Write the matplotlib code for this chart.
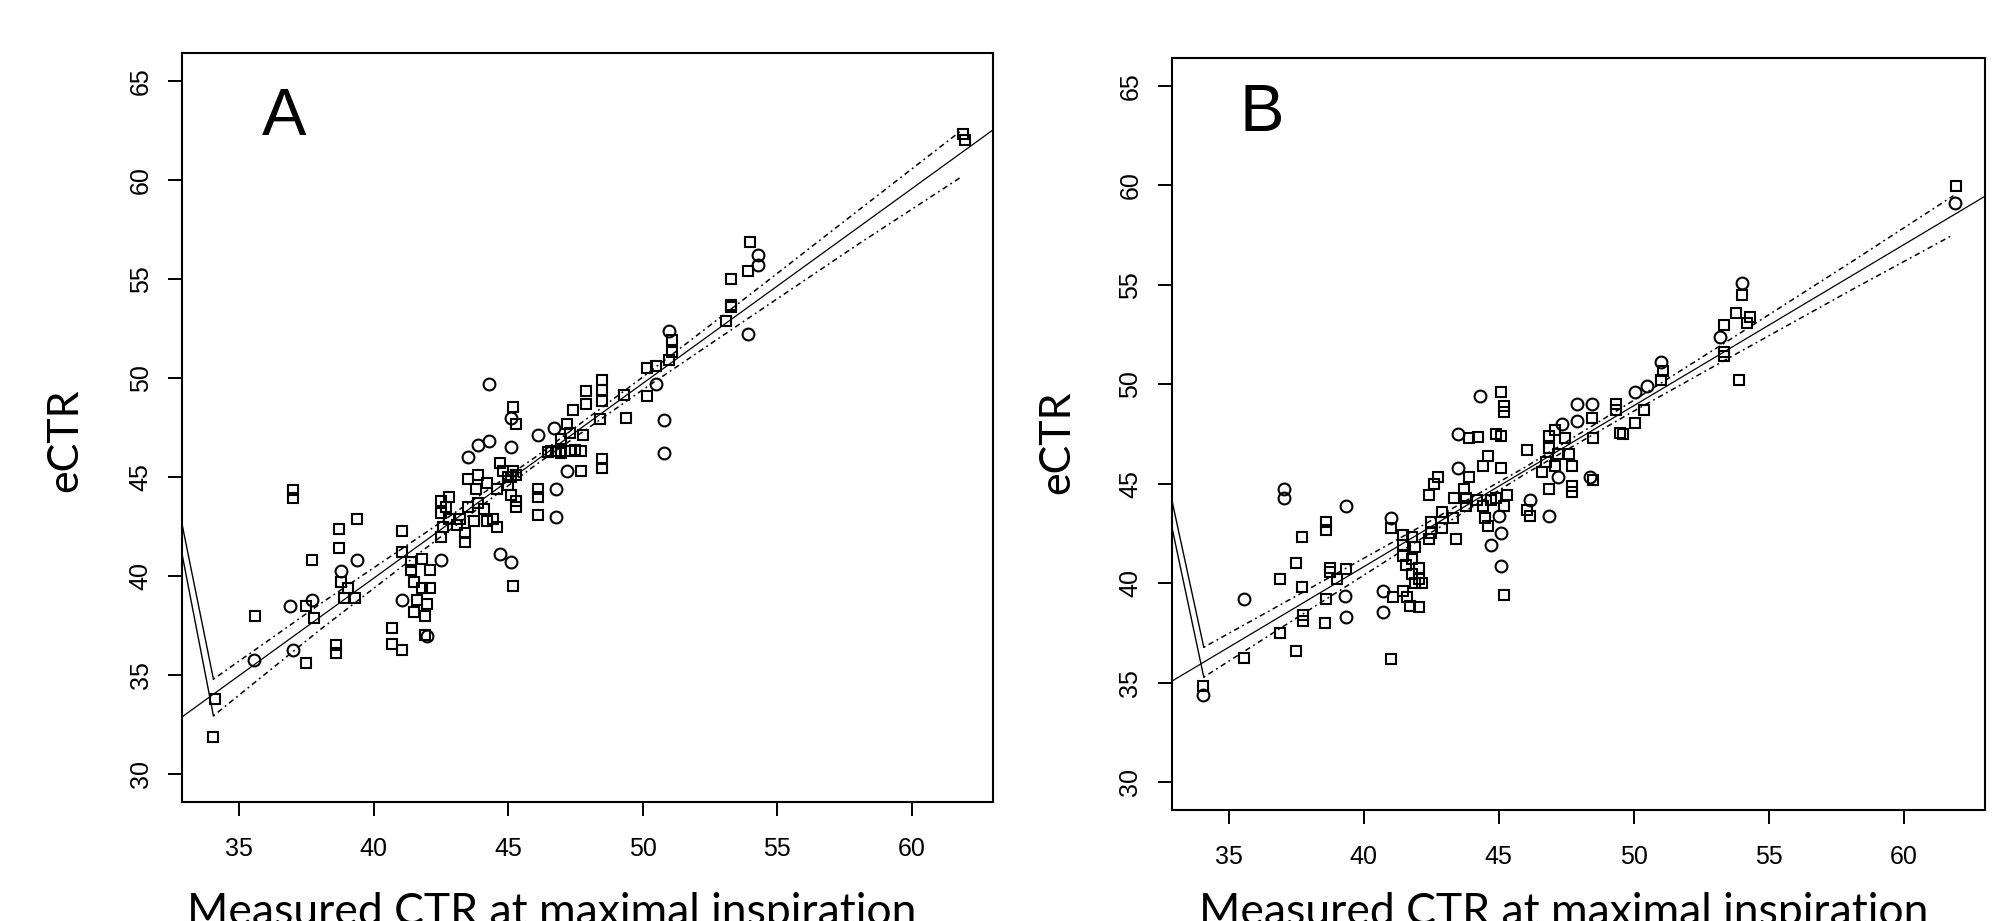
import numpy as np
import matplotlib
matplotlib.use("Agg")
import matplotlib.pyplot as plt

plt.rcParams["font.family"] = ["Liberation Sans", "DejaVu Sans"]

# ---- panel A: measured vs estimated CTR ----
a_sq_x = [61.9, 62.0, 54.0, 53.9, 53.3, 53.3, 53.3, 53.1, 51.1, 51.1, 50.97, 50.5, 50.15, 50.15,
          49.3, 49.4, 48.5, 48.5, 48.5, 47.9, 47.9, 47.4, 48.4, 47.8, 47.2, 47.3, 46.95, 46.6,
          46.95, 47.3, 47.7, 47.7, 48.5, 48.5, 46.1, 46.1, 46.1, 45.2, 45.3, 44.7, 44.8, 45.1,
          45.2, 43.5, 43.9, 44.2, 44.6, 45.1, 45.3, 45.3, 43.8, 43.5, 43.9, 44.1, 44.45, 44.6,
          44.2, 43.75, 43.4, 43.4, 42.8, 42.5, 42.7, 42.5, 42.8, 43.1, 42.6, 42.5, 43.2, 41.05,
          41.05, 41.4, 41.8, 41.4, 42.1, 41.5, 41.8, 42.1, 41.6, 42.0, 41.5, 41.9, 40.7, 41.9,
          40.7, 41.05, 45.2, 39.4, 38.7, 38.7, 37.7, 38.8, 39.05, 38.9, 39.3, 37.5, 37.8, 37.0,
          37.0, 35.6, 37.5, 38.6, 38.6, 34.1, 34.05, 46.5, 46.8, 47.1, 47.5, 45.0, 45.3, 45.0]
a_sq_y = [62.3, 62.0, 56.85, 55.4, 55.0, 53.7, 53.6, 52.9, 51.9, 51.3, 50.9, 50.6, 50.5, 49.1,
          49.15, 48.0, 49.9, 49.4, 48.85, 49.35, 48.7, 48.4, 47.95, 47.1, 47.7, 47.2, 46.9, 46.3,
          46.2, 46.3, 46.3, 45.3, 45.9, 45.45, 44.4, 44.0, 43.1, 48.55, 47.7, 45.7, 45.3, 45.0,
          45.3, 44.9, 45.1, 44.7, 44.4, 44.1, 43.8, 43.5, 44.4, 43.5, 43.7, 43.4, 42.9, 42.5,
          42.8, 42.8, 42.2, 41.7, 44.0, 43.8, 43.5, 43.2, 42.9, 42.6, 42.5, 42.0, 42.9, 42.3,
          41.2, 40.7, 40.85, 40.3, 40.3, 39.7, 39.4, 39.4, 38.8, 38.6, 38.2, 38.0, 37.4, 37.05,
          36.55, 36.25, 39.5, 42.9, 42.4, 41.4, 40.8, 39.7, 39.4, 38.9, 38.9, 38.5, 37.9, 44.35,
          43.95, 38.0, 35.6, 36.5, 36.1, 33.8, 31.9, 46.25, 46.3, 46.3, 46.35, 45.0, 45.1, 44.6]
a_ci_x = [54.3, 54.3, 53.9, 51.0, 50.5, 50.8, 50.8, 46.7, 47.2, 46.8, 46.8, 46.1, 44.3, 45.1,
          44.3, 43.9, 43.5, 45.1, 42.5, 41.05, 42.0, 44.7, 45.1, 39.4, 38.8, 37.7, 36.9, 35.55, 37.0]
a_ci_y = [56.2, 55.7, 52.2, 52.35, 49.7, 47.9, 46.2, 47.5, 45.3, 44.4, 43.0, 47.1, 49.7, 48.0,
          46.8, 46.6, 46.0, 46.5, 40.8, 38.8, 37.0, 41.1, 40.7, 40.8, 40.25, 38.8, 38.5, 35.75, 36.25]
a_fit = (0.57, 0.983)  # intercept, slope
a_band_x = [32.5, 34.05, 38, 42, 46, 50, 54, 58, 61.85]
a_band_up = [45.2, 34.8, 38.58, 42.25, 45.99, 50.04, 54.22, 58.44, 62.49]
a_band_lo = [43.8, 32.95, 37.28, 41.47, 45.59, 49.40, 53.08, 56.74, 60.15]

# ---- panel B ----
b_sq_x = [61.96, 54.0, 53.8, 54.3, 54.2, 53.35, 53.35, 53.35, 53.9, 51.1, 51.0, 50.4, 50.05, 49.35,
          49.35, 49.5, 49.6, 48.45, 48.5, 48.5, 47.7, 47.7, 47.1, 46.85, 47.45, 46.85, 47.2, 47.6,
          46.75, 47.1, 47.7, 46.6, 46.85, 46.05, 46.05, 46.15, 45.1, 45.2, 45.2, 43.9, 44.25, 44.9,
          45.1, 44.6, 44.4, 45.1, 43.9, 43.7, 43.35, 43.8, 44.2, 44.7, 43.8, 44.4, 44.9, 45.3,
          45.2, 44.5, 44.6, 43.4, 43.3, 45.2, 42.75, 42.4, 42.6, 42.9, 42.5, 42.9, 42.5, 42.4,
          41.0, 41.45, 41.8, 41.45, 41.9, 41.45, 41.8, 41.55, 42.05, 41.8, 42.05, 41.9, 42.15, 41.45,
          41.1, 41.6, 41.7, 42.05, 41.0, 38.6, 38.6, 37.7, 37.5, 36.9, 38.75, 38.75, 39.35, 39.0,
          37.7, 38.6, 37.75, 37.75, 38.55, 36.9, 37.5, 35.55, 34.03]
b_sq_y = [59.97, 54.5, 53.6, 53.4, 53.1, 53.0, 51.6, 51.4, 50.2, 50.65, 50.2, 48.7, 48.05, 49.0,
          48.7, 47.55, 47.5, 48.3, 47.3, 45.2, 44.9, 44.6, 47.7, 47.4, 47.3, 46.8, 46.5, 46.5,
          46.1, 45.9, 45.9, 45.6, 44.75, 46.7, 43.7, 43.4, 49.6, 48.9, 48.6, 47.3, 47.35, 47.5,
          47.4, 46.4, 45.9, 45.8, 45.35, 44.75, 44.3, 44.3, 44.2, 44.2, 43.9, 43.9, 44.3, 44.45,
          43.9, 43.3, 42.9, 42.2, 43.3, 39.4, 45.35, 44.45, 45.0, 43.6, 43.1, 42.8, 42.5, 42.2,
          42.8, 42.4, 42.3, 41.9, 41.8, 41.35, 41.2, 40.9, 40.75, 40.45, 40.2, 40.0, 40.0, 39.6,
          39.3, 39.3, 38.85, 38.8, 36.2, 43.1, 42.7, 42.3, 41.0, 40.2, 40.75, 40.55, 40.7, 40.2,
          39.8, 39.2, 38.4, 38.1, 38.0, 37.5, 36.6, 36.25, 34.85]
b_ci_x = [61.9, 54.0, 53.2, 51.0, 50.5, 50.05, 48.45, 47.9, 47.9, 48.4, 47.35, 47.2, 46.85, 46.15,
          44.3, 43.5, 43.5, 45.0, 45.1, 44.7, 45.1, 41.0, 40.7, 40.7, 39.35, 39.3, 39.35, 35.55,
          37.05, 37.05, 34.03]
b_ci_y = [59.1, 55.1, 52.4, 51.1, 49.9, 49.6, 49.0, 49.0, 48.15, 45.35, 48.0, 45.35, 43.4, 44.2,
          49.4, 47.5, 45.8, 43.4, 42.5, 41.9, 40.85, 43.3, 38.55, 39.6, 43.9, 39.35, 38.3, 39.2,
          44.75, 44.3, 34.4]
b_fit = (8.47, 0.809)
b_band_x = [32.5, 34.07, 38, 42, 46, 50, 54, 58, 61.85]
b_band_up = [46.6, 36.78, 39.74, 42.77, 45.85, 49.19, 52.62, 56.09, 59.48]
b_band_lo = [45.3, 35.28, 38.68, 42.13, 45.51, 48.65, 51.68, 54.69, 57.52]

x_ticks = [35, 40, 45, 50, 55, 60]
y_ticks = [30, 35, 40, 45, 50, 55, 60, 65]

fig = plt.figure(figsize=(19.95, 9.21), dpi=100)

panels = [
    ("A", [0.0912, 0.1292, 0.4065, 0.8132], a_sq_x, a_sq_y, a_ci_x, a_ci_y, a_fit,
     a_band_x, a_band_up, a_band_lo, (0.0986, 0.8905)),
    ("B", [0.5873, 0.1205, 0.4077, 0.8165], b_sq_x, b_sq_y, b_ci_x, b_ci_y, b_fit,
     b_band_x, b_band_up, b_band_lo, (0.0836, 0.903)),
]

dotdash = (0, (1.2, 2.4, 3.6, 2.4))

for name, rect, sx, sy, cx, cy, fit, bx, bup, blo, lpos in panels:
    ax = fig.add_axes(rect)
    ax.plot(sx, sy, ls="none", marker="s", ms=7.5, mfc="none", mec="black", mew=1.5)
    ax.plot(cx, cy, ls="none", marker="o", ms=8.5, mfc="none", mec="black", mew=1.5)
    ax.axline((0, fit[0]), slope=fit[1], color="black", lw=0.9)
    # steep first segment of the band renders as a solid stroke in the original
    for band in (bup, blo):
        ax.plot(bx[:2], band[:2], color="black", lw=1.0)
        ax.plot(bx[1:], band[1:], color="black", lw=1.1, ls=dotdash)
    ax.set_xlim(32.88, 63.02)
    ax.set_ylim(28.6, 66.4)
    ax.set_xticks(x_ticks)
    ax.set_yticks(y_ticks)
    for sp in ax.spines.values():
        sp.set_linewidth(1.5)
    ax.tick_params(axis="both", length=10, width=1.4, labelsize=18)
    ax.tick_params(axis="x", pad=15)
    ax.tick_params(axis="y", pad=11, labelrotation=90)
    for lab in ax.get_yticklabels():
        lab.set_verticalalignment("center")
    ax.text(lpos[0], lpos[1], name, transform=ax.transAxes, fontsize=48,
            family="Liberation Sans", ha="left", va="baseline")

# axis titles (added outside R in a word processor-like font)
fig.text(0.2767, 0.0315, "Measured CTR at maximal inspiration", family="Lato",
         fontsize=32, ha="center", va="top")
fig.text(0.7840, 0.0315, "Measured CTR at maximal inspiration", family="Lato",
         fontsize=32, ha="center", va="top")
fig.text(0.0326, 0.5222, "eCTR", family="Lato", fontsize=31, rotation=90,
         ha="center", va="center")
fig.text(0.5298, 0.5200, "eCTR", family="Lato", fontsize=31, rotation=90,
         ha="center", va="center")

fig.savefig("out.png", dpi=100)
